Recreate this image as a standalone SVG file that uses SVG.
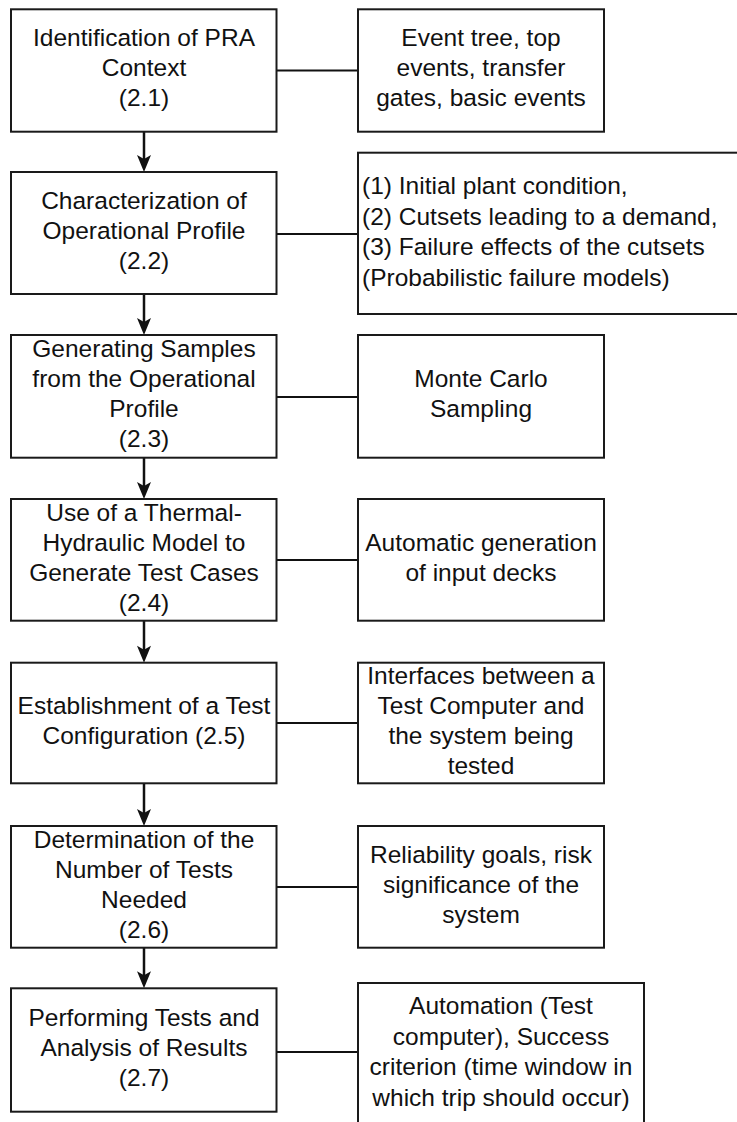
<svg xmlns="http://www.w3.org/2000/svg" width="737" height="1122" viewBox="0 0 737 1122">
<defs>
<style>
.box{fill:#fff;stroke:#1a1a1a;stroke-width:2}
.t{font-family:"Liberation Sans",Arial,sans-serif;font-size:24.5px;fill:#111;text-anchor:middle}
.tl{font-family:"Liberation Sans",Arial,sans-serif;font-size:24.5px;fill:#111;text-anchor:start}
.link{stroke:#111;stroke-width:2;fill:none}
.arr{stroke:#111;stroke-width:2.5;fill:none}
.head{fill:#111;stroke:none}
</style>
</defs>
<rect x="0" y="0" width="737" height="1122" fill="#fff"/>
<g id="connectors">
<line class="link" x1="276.5" y1="70.5" x2="358" y2="70.5"/>
<line class="link" x1="276.5" y1="234" x2="358" y2="234"/>
<line class="link" x1="276.5" y1="397" x2="358" y2="397"/>
<line class="link" x1="276.5" y1="560" x2="358" y2="560"/>
<line class="link" x1="276.5" y1="723" x2="358" y2="723"/>
<line class="link" x1="276.5" y1="887" x2="358" y2="887"/>
<line class="link" x1="276.5" y1="1052" x2="358" y2="1052"/>
<line class="arr" x1="144" y1="131.7" x2="144" y2="162"/>
<path class="head" d="M144,172 L137,155 L144,159 L151,155 Z"/>
<line class="arr" x1="144" y1="294" x2="144" y2="325"/>
<path class="head" d="M144,335 L137,318 L144,322 L151,318 Z"/>
<line class="arr" x1="144" y1="457.7" x2="144" y2="489"/>
<path class="head" d="M144,499 L137,482 L144,486 L151,482 Z"/>
<line class="arr" x1="144" y1="620.7" x2="144" y2="652.7"/>
<path class="head" d="M144,662.7 L137,645.7 L144,649.7 L151,645.7 Z"/>
<line class="arr" x1="144" y1="783.3" x2="144" y2="816"/>
<path class="head" d="M144,826 L137,809 L144,813 L151,809 Z"/>
<line class="arr" x1="144" y1="947.7" x2="144" y2="978.3"/>
<path class="head" d="M144,988.3 L137,971.3 L144,975.3 L151,971.3 Z"/>
</g>
<g id="n1">
<rect class="box" x="11" y="9.3" width="265.5" height="122.4"/>
<text class="t"><tspan x="144" y="46">Identification of PRA</tspan><tspan x="144" y="76">Context</tspan><tspan x="144" y="106">(2.1)</tspan></text>
</g>
<g id="r1">
<rect class="box" x="358" y="9.3" width="246" height="122.4"/>
<text class="t"><tspan x="481" y="46">Event tree, top</tspan><tspan x="481" y="76">events, transfer</tspan><tspan x="481" y="106">gates, basic events</tspan></text>
</g>
<g id="n2">
<rect class="box" x="11" y="172" width="265.5" height="122"/>
<text class="t"><tspan x="144" y="208.5">Characterization of</tspan><tspan x="144" y="238.5">Operational Profile</tspan><tspan x="144" y="268.5">(2.2)</tspan></text>
</g>
<g id="r2">
<rect class="box" x="358" y="152.7" width="381" height="161.3"/>
<text class="tl"><tspan x="362" y="194">(1) Initial plant condition,</tspan><tspan x="362" y="224.5">(2) Cutsets leading to a demand,</tspan><tspan x="362" y="255">(3) Failure effects of the cutsets</tspan><tspan x="362" y="285.5">(Probabilistic failure models)</tspan></text>
</g>
<g id="n3">
<rect class="box" x="11" y="335" width="265.5" height="122.7"/>
<text class="t"><tspan x="144" y="356.8">Generating Samples</tspan><tspan x="144" y="386.8">from the Operational</tspan><tspan x="144" y="416.8">Profile</tspan><tspan x="144" y="446.8">(2.3)</tspan></text>
</g>
<g id="r3">
<rect class="box" x="358" y="335" width="246" height="122.7"/>
<text class="t"><tspan x="481" y="387">Monte Carlo</tspan><tspan x="481" y="417">Sampling</tspan></text>
</g>
<g id="n4">
<rect class="box" x="11" y="499" width="265.5" height="121.7"/>
<text class="t"><tspan x="144" y="520.5">Use of a Thermal-</tspan><tspan x="144" y="550.5">Hydraulic Model to</tspan><tspan x="144" y="580.5">Generate Test Cases</tspan><tspan x="144" y="610.5">(2.4)</tspan></text>
</g>
<g id="r4">
<rect class="box" x="358" y="499" width="246" height="121.7"/>
<text class="t"><tspan x="481" y="550.5">Automatic generation</tspan><tspan x="481" y="580.5">of input decks</tspan></text>
</g>
<g id="n5">
<rect class="box" x="11" y="662.7" width="265.5" height="120.6"/>
<text class="t"><tspan x="144" y="713.5">Establishment of a Test</tspan><tspan x="144" y="743.5">Configuration (2.5)</tspan></text>
</g>
<g id="r5">
<rect class="box" x="358" y="662.7" width="246" height="120.6"/>
<text class="t"><tspan x="481" y="683.5">Interfaces between a</tspan><tspan x="481" y="713.5">Test Computer and</tspan><tspan x="481" y="743.5">the system being</tspan><tspan x="481" y="773.5">tested</tspan></text>
</g>
<g id="n6">
<rect class="box" x="11" y="826" width="265.5" height="121.7"/>
<text class="t"><tspan x="144" y="847.5">Determination of the</tspan><tspan x="144" y="877.5">Number of Tests</tspan><tspan x="144" y="907.5">Needed</tspan><tspan x="144" y="937.5">(2.6)</tspan></text>
</g>
<g id="r6">
<rect class="box" x="358" y="826" width="246" height="121.7"/>
<text class="t"><tspan x="481" y="862.5">Reliability goals, risk</tspan><tspan x="481" y="892.5">significance of the</tspan><tspan x="481" y="922.5">system</tspan></text>
</g>
<g id="n7">
<rect class="box" x="11" y="988.3" width="265.5" height="123.4"/>
<text class="t"><tspan x="144" y="1025.5">Performing Tests and</tspan><tspan x="144" y="1055.5">Analysis of Results</tspan><tspan x="144" y="1085.5">(2.7)</tspan></text>
</g>
<g id="r7">
<rect class="box" x="358" y="983" width="286" height="160"/>
<text class="t"><tspan x="501" y="1014">Automation (Test</tspan><tspan x="501" y="1044.5">computer), Success</tspan><tspan x="501" y="1075">criterion (time window in</tspan><tspan x="501" y="1105.5">which trip should occur)</tspan></text>
</g>
</svg>
